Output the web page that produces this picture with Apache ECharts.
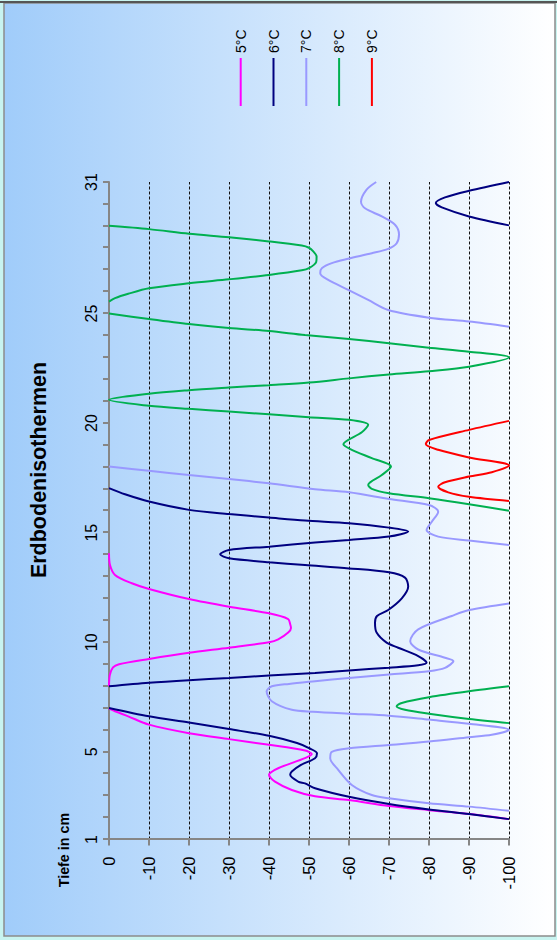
<!DOCTYPE html>
<html>
<head>
<meta charset="utf-8">
<script src="https://cdn.jsdelivr.net/npm/echarts@6/dist/echarts.min.js"></script>
<style>
html,body{margin:0;padding:0;overflow:hidden;background:#c8f4f0;width:557px;height:940px;}
#chart{position:absolute;left:0;top:0;width:940px;height:557px;transform-origin:0 0;transform:translate(0,940px) rotate(-90deg);}
</style>
</head>
<body>
<div id="chart"></div>
<script>
// ---- data ----
const seriesNames = ['5°C', '6°C', '7°C', '8°C', '9°C'];
const dayTickLabels = [1, 5, 10, 15, 20, 25, 31];

// null = gap between curve segments
const iso5Day   = [1.93, 2.16, 2.34, 2.53, 2.8, 2.97, 3.26, 3.64, 3.95, 4.25, 4.71, 4.9, 5.06, 5.32, 5.58, 5.85, 6.24, 6.62, 6.85, 6.97, null,
                   8.0, 8.5, 8.85, 9.0, 9.24, 9.52, 9.75, 10.0, 10.13, 10.44, 10.65, 10.82, 11.06, 11.32, 11.62, 11.97, 12.43, 12.69, 13.07, 13.52, 14.06];
const iso5Depth = [-100, -90, -80, -70, -60, -51.5, -45.7, -41.5, -40, -42.3, -49, -50.7, -49, -40, -30, -20, -10, -4.8, -1.5, 0, null,
                   0, -0.2, -1, -2.5, -10, -20, -30, -40, -42.3, -44.8, -45.5, -45.3, -44.8, -40, -30, -20, -10, -5.7, -1.5, -0.25, 0];

const iso6Day   = [1.93, 2.16, 2.37, 2.62, 2.95, 3.34, 3.56, 3.64, 3.95, 4.1, 4.4, 4.71, 4.94, 5.17, 5.4, 5.73, 6.04, 6.34, 6.62, 7.0, null,
                   7.99, 8.15, 8.27, 8.37, 8.48, 8.6, 8.71, 8.84, 8.95, 9.06, 9.37, 9.75, 9.98, 10.44, 10.89, 11.2, 11.47, 12.0, 12.54, 12.95, 13.19, 13.37, 13.52,
                   13.65, 13.83, 14.01, 14.21, 14.36, 14.55, 14.67, 14.82, 15.05, 15.23, 15.43, 15.55, 15.69, 15.85, 16.04, 16.42, 16.75, 17.03, null,
                   29.02, 29.43, 29.84, 30.04, 30.3, 30.6, 31.0];
const iso6Depth = [-100, -90, -80, -70, -60, -51.5, -49, -47.3, -45.3, -45.7, -48, -51.5, -52, -50, -47, -40, -30, -20, -10, 0, null,
                   0, -10, -20, -30, -40, -51.5, -60, -70, -77.3, -79.4, -77.3, -72.3, -69.4, -66.9, -66.5, -67, -69.8, -73.2, -74.8, -74, -70, -60, -49,
                   -40, -30, -27.8, -30, -40, -51.5, -60, -70, -74.8, -70, -60, -49, -40, -30, -20, -10, -4, 0, null,
                   -100, -90, -83.2, -81.7, -84, -90, -100];

const iso7Day   = [2.31, 2.5, 2.65, 2.88, 3.03, 3.49, 4.18, 4.71, 5.0, 5.16, 5.31, 5.47, 5.67, 5.78, 6.0, 6.28, 6.47, 6.65, 6.74, 6.83, 6.92, 7.31, 7.76, 7.99,
                   8.1, 8.22, 8.37, 8.53, 8.68, 8.83, 9.14, 9.29, 9.67, 10.05, 10.59, 11.2, 11.47, 11.77, null,
                   14.44, 14.64, 14.82, 15.12, 15.5, 15.96, 16.26, 16.54, 16.84, 16.98, 17.25, 17.45, 17.63, 17.82, 18.02, null,
                   24.4, 24.63, 24.81, 25.16, 25.62, 26.08, 26.53, 26.84, 27.07, 27.3, 27.5, 27.75, 27.95, 28.2, 28.6, 29.05, 29.43, 29.8, 30.1, 30.65, 31.0];
const iso7Depth = [-100, -90, -80, -70, -65.7, -60.7, -57.3, -55.3, -55.7, -60, -70, -80, -90, -95.7, -100, -90, -80, -70, -60, -51, -45.7, -40.7, -39.4, -40.7,
                   -45, -51.5, -60, -70, -80, -84, -86.1, -84, -77.3, -75.3, -77.3, -85.7, -90, -100, null,
                   -100, -90, -82.3, -79.4, -80.7, -82.3, -80, -70, -60, -51.5, -40, -30, -20, -10, 0, null,
                   -100, -90, -80, -69.8, -64.8, -59.8, -54.8, -52.8, -53.2, -55.7, -59.8, -65.7, -69.8, -71.9, -72.5, -71.5, -68.2, -64, -63, -64.4, -66.8];

const iso8Day   = [6.31, 6.5, 6.74, 6.92, 7.08, 7.23, 7.49, 7.76, 7.99, null,
                   16.0, 16.3, 16.57, 16.8, 17.0, 17.18, 17.63, 18.02, 18.4, 18.78, 19.03, 19.58, 19.92, 20.15, 20.27, 20.4, 20.53, 20.65, 20.79, 21.06,
                   21.34, 21.5, 21.62, 21.73, 21.85, 22.04, 22.22, 22.37, 22.57, 23.0, 23.26, 23.44, 23.64, 23.84, 24.02, 24.2, 24.34, 24.52, 24.75, 25.0, null,
                   25.54, 25.7, 25.9, 26.15, 26.38, 26.56, 26.76, 26.97, 27.07, 27.35, 27.6, 27.85, 28.0, 28.1, 28.29, 28.48, 28.64, 28.85, 29.0];
const iso8Depth = [-100, -90, -80, -74, -71.9, -73.2, -80, -90, -100, null,
                   -100, -90, -80, -70, -65.7, -64.8, -68.2, -70.5, -65.7, -60.7, -58.6, -63.2, -64.8, -60, -50, -40, -30, -20, -10, 0,
                   -10, -20, -30, -40, -50, -60, -70, -80, -90, -100, -90, -80, -70, -60, -49, -40, -30, -20, -10, 0, null,
                   0, -1.5, -4.8, -10, -20, -30, -40, -48.2, -50, -51.8, -51.9, -51, -50, -48.2, -40, -30, -20, -10, 0];

const iso9Day   = [16.45, 16.64, 16.84, 17.1, 17.3, 17.56, 17.76, 18.06, 18.43, 18.78, 19.04, 19.23, 19.69, 20.1];
const iso9Depth = [-100, -90, -84.8, -82.3, -84, -90, -95.7, -100, -90, -82.3, -79.2, -80, -90, -100];

const isoColors = ['#ff00ff', '#000080', '#9999ff', '#00b050', '#ff0000'];

// ---- build ----
function toSegments(days, depths) {
  const segs = []; let cur = [];
  days.forEach((d, i) => {
    if (d === null) { if (cur.length) segs.push(cur); cur = []; }
    else cur.push([d, depths[i]]);
  });
  if (cur.length) segs.push(cur);
  return segs;
}
const isoData = [[iso5Day, iso5Depth], [iso6Day, iso6Depth], [iso7Day, iso7Depth], [iso8Day, iso8Depth], [iso9Day, iso9Depth]];
const series = [];
isoData.forEach((pair, k) => {
  toSegments(pair[0], pair[1]).forEach(seg => {
    series.push({
      type: 'line', name: seriesNames[k], data: seg, smooth: 0.3, symbol: 'none',
      color: isoColors[k], itemStyle: { color: isoColors[k] },
      lineStyle: { color: isoColors[k], width: 2 }, clip: true
    });
  });
});

const FONT = 'Liberation Sans';
const chart = echarts.init(document.getElementById('chart'), null, { renderer: 'svg', width: 940, height: 557 });
chart.setOption({
  animation: false,
  backgroundColor: 'transparent',
  graphic: [
    { type: 'rect', z: -10, silent: true, shape: { x: 4, y: 4, width: 933, height: 551 },
      style: { fill: { type: 'linear', x: 0, y: 0, x2: 0, y2: 1, colorStops: [{ offset: 0, color: '#a0ccfa' }, { offset: 1, color: '#ffffff' }] },
               stroke: '#8c8c8c', lineWidth: 1.5 } },
    { type: 'line', z: -9, silent: true, shape: { x1: 938, y1: 0, x2: 938, y2: 557 }, style: { stroke: '#555555', lineWidth: 2 } }
  ],
  title: [
    { text: 'Erdbodenisothermen', left: 'center', top: 28, padding: 0,
      textStyle: { fontFamily: FONT, fontWeight: 'bold', fontSize: 21.5, color: '#000' } },
    { text: 'Tiefe in cm', left: 52.7, top: 57, padding: 0,
      textStyle: { fontFamily: FONT, fontWeight: 'bold', fontSize: 14.3, color: '#000' } }
  ],
  legend: {
    data: seriesNames, orient: 'vertical', left: 834, top: 233.7, padding: 0,
    icon: 'rect', itemWidth: 48, itemHeight: 2, itemGap: 18.8,
    textStyle: { fontFamily: FONT, fontSize: 14, lineHeight: 14, color: '#000' }
  },
  grid: { left: 100.5, right: 182, top: 109, bottom: 48, containLabel: false, outerBoundsMode: 'none' },
  xAxis: {
    type: 'value', position: 'top', min: 1, max: 31, interval: 1,
    axisLine: { show: true, onZero: false, lineStyle: { color: '#868686', width: 2 } },
    axisTick: { show: true, inside: false, length: 6, lineStyle: { color: '#868686', width: 2 } },
    axisLabel: { margin: 10, fontFamily: FONT, fontSize: 16, color: '#000',
      formatter: v => dayTickLabels.includes(v) ? String(v) : '' },
    splitLine: { show: false }
  },
  yAxis: {
    type: 'value', min: -100, max: 0, interval: 10,
    axisLine: { show: true, onZero: false, lineStyle: { color: '#868686', width: 2 } },
    axisTick: { show: true, inside: false, length: 6, lineStyle: { color: '#868686', width: 2 } },
    axisLabel: { margin: 17, fontFamily: FONT, fontSize: 16.5, color: '#000' },
    splitLine: { show: true, lineStyle: { color: '#111', width: 1, type: [3, 2] } }
  },
  series: series
});
</script>
</body>
</html>
